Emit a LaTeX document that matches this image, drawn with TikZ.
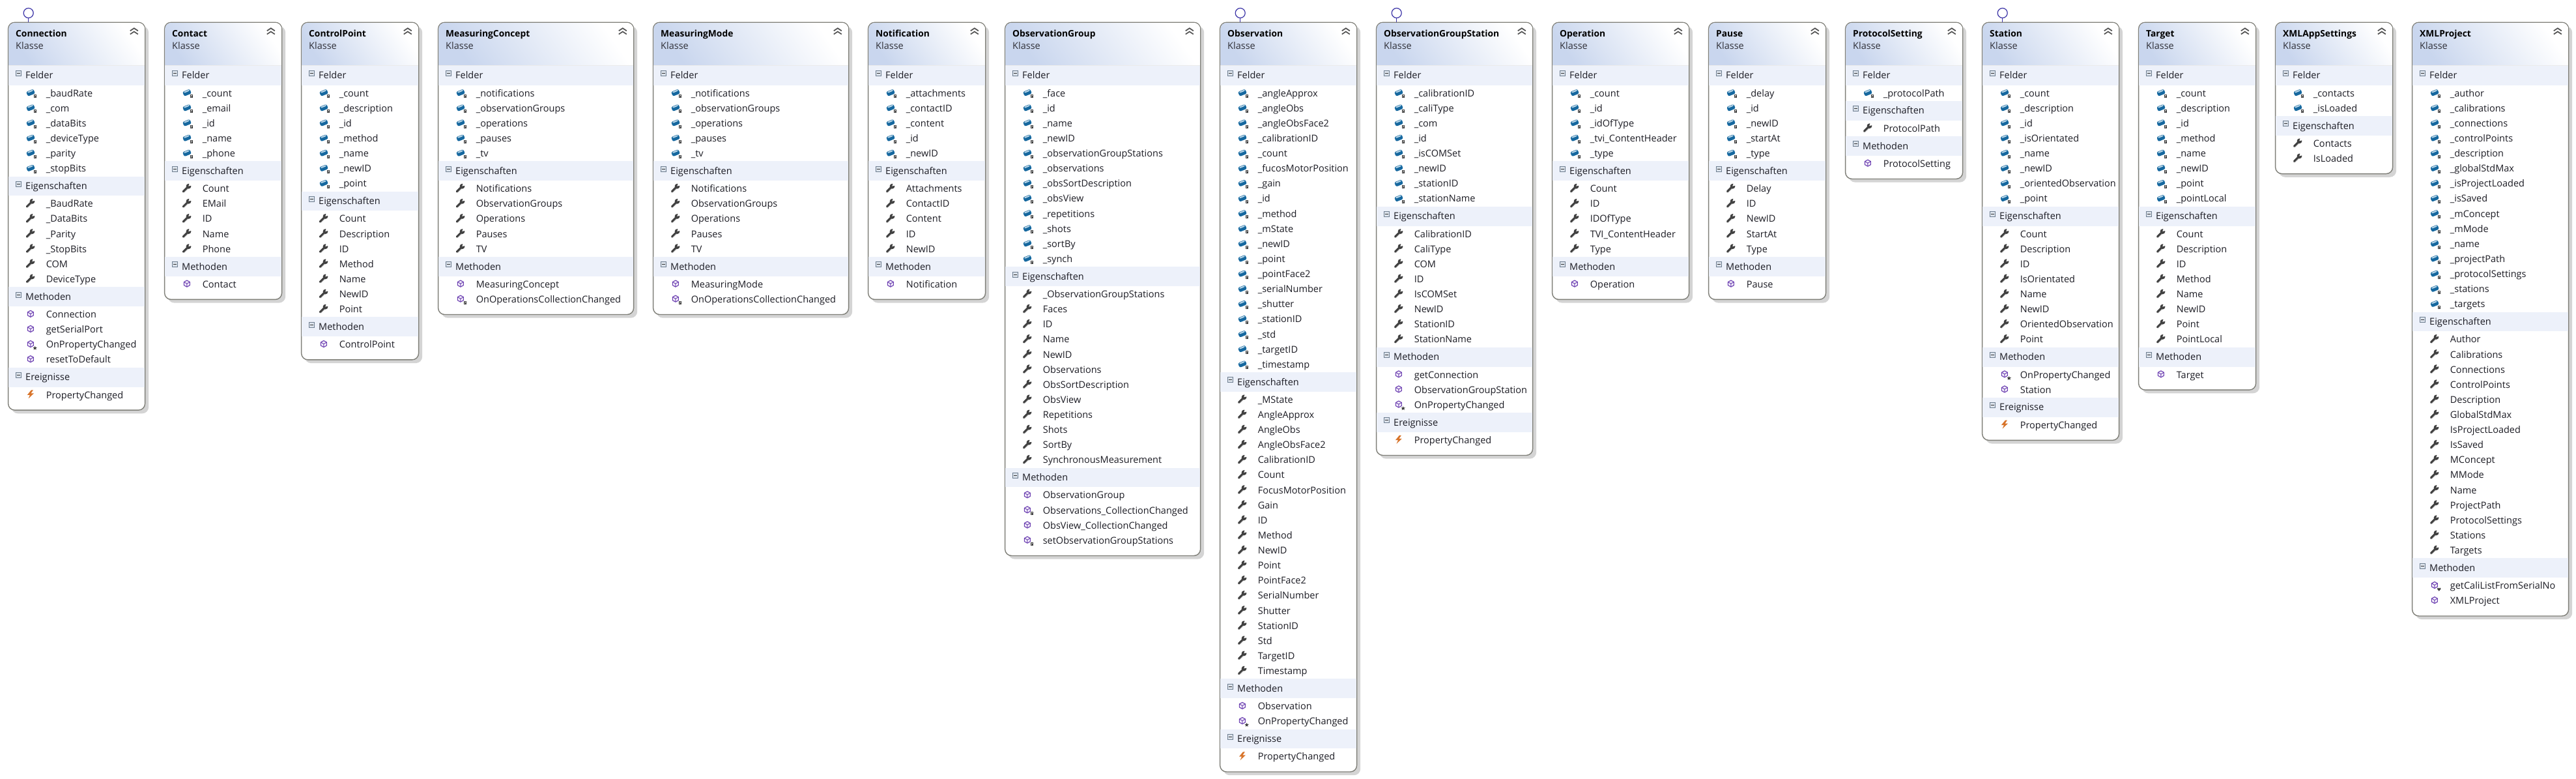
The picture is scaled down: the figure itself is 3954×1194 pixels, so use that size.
\documentclass[tikz,border=0pt]{standalone}
\usepackage{fontspec}
\setmainfont{Open Sans}
\AtBeginDocument{\catcode`\_=12 }
\definecolor{framegray}{HTML}{7F7F78}
\definecolor{shadowgray}{HTML}{D4D4D4}
\definecolor{hdrblue}{HTML}{C9D6EE}
\definecolor{bandblue}{HTML}{EDF1FA}
\definecolor{inktext}{HTML}{1C1C24}
\definecolor{subtext}{HTML}{303038}
\definecolor{fieldblue}{HTML}{16689F}
\definecolor{fieldlight}{HTML}{B9D6E8}
\definecolor{lockgray}{HTML}{3C3C3C}
\definecolor{wrenchgray}{HTML}{414141}
\definecolor{methpurple}{HTML}{6A3DB0}
\definecolor{methsoft}{HTML}{F4EFFA}
\definecolor{eventorange}{HTML}{D8742A}
\definecolor{lolliblue}{HTML}{3B33A6}
\definecolor{togglefill}{HTML}{DCE3EC}
\definecolor{toggleedge}{HTML}{6E7E90}
\newcount\rowcnt
\newcommand{\rowfontsel}{\fontsize{14.5}{18}\selectfont}
\newcommand{\titlefontsel}{\fontsize{13.8}{18}\selectfont\bfseries}
\tikzset{
  classframe/.style={draw=framegray,fill=white,line width=1.4pt,rounded corners=10pt,inner sep=0pt,outer sep=0pt,anchor=north west},
  classshadow/.style={fill=shadowgray,rounded corners=10pt},
  rowtext/.style={anchor=base west,inner sep=0pt,outer sep=0pt,font=\rowfontsel,text=inktext},
  titletext/.style={anchor=base west,inner sep=0pt,outer sep=0pt,font=\titlefontsel,text=black},
  kindtext/.style={anchor=base west,inner sep=0pt,outer sep=0pt,font=\rowfontsel,text=subtext},
  lollicircle/.style={circle,draw=lolliblue,line width=1.2pt,minimum size=15pt,inner sep=0pt,outer sep=0pt},
  lolliline/.style={draw=lolliblue,line width=1.2pt},
  chevron/.style={draw=black!68,line width=1.7pt},
}
% icons, drawn around the origin; y runs downwards
\newcommand{\iconlock}{%
  \fill[lockgray] (4.6,5.4) rectangle (9,8.4);
  \draw[lockgray,line width=.8pt] (5.6,5.4) -- (5.6,3.8) -- (8,3.8) -- (8,5.4);
  \fill[white] (6.3,6.4) rectangle (7.3,7.3);
}
\newcommand{\iconstar}{%
  \fill[lockgray] (6.8,3.2) -- (7.7,5.3) -- (10,5.4) -- (8.2,6.8) -- (8.8,9) -- (6.8,7.8) -- (4.8,9) -- (5.4,6.8) -- (3.6,5.4) -- (5.9,5.3) -- cycle;
}
\newcommand{\iconheart}{%
  \fill[lockgray] (6.8,9.2) -- (4,6) .. controls (3.6,3.8) and (6.1,3.4) .. (6.8,5.2) .. controls (7.5,3.4) and (10,3.8) .. (9.6,6) -- cycle;
}
\newcommand{\iconfield}{%
  \begin{scope}[rotate=22]
    \fill[fieldblue,rounded corners=2.4pt] (-6,-3.4) rectangle (6,4);
    \fill[fieldlight,rounded corners=1.5pt] (-4.4,-2.8) rectangle (5,-0.8);
  \end{scope}
}
\newcommand{\iconprop}{%
  \draw[black!22,line width=2.6pt,line cap=round] (-5,6) -- (2,-.5);
  \draw[wrenchgray,line width=3pt,line cap=round] (-5.6,5.2) -- (1,-1.4);
  \fill[wrenchgray] (2.6,-2.8) circle (3.9);
  \fill[white] (2.4,-2.9) -- (8.5,-4.4) -- (4.6,-9) -- cycle;
}
\newcommand{\iconmeth}{%
  \draw[methpurple,fill=methsoft,line width=1.1pt,line join=round] (0,-5) -- (4.5,-2.5) -- (4.5,2.5) -- (0,5) -- (-4.5,2.5) -- (-4.5,-2.5) -- cycle;
  \draw[methpurple,line width=.9pt] (-4.5,-2.5) -- (0,0) -- (4.5,-2.5) (0,0) -- (0,5);
}
\newcommand{\iconevent}{%
  \fill[eventorange] (1,-6.4) -- (-5,1) -- (-1,1) -- (-3.4,6.6) -- (5,-1.4) -- (.6,-1.4) -- (4,-6.4) -- cycle;
}
\newcommand{\iconf}{\iconfield\iconlock}
\newcommand{\iconp}{\iconprop}
\newcommand{\iconm}{\iconmeth}
\newcommand{\iconml}{\iconmeth\iconlock}
\newcommand{\iconms}{\iconmeth\iconstar}
\newcommand{\iconmh}{\iconmeth\iconheart}
\newcommand{\icone}{\iconevent}
% class frame:  id, title, left, width, has lollipop (0/1), number of sections, number of rows
\newcommand{\classbox}[7]{%
  \pgfmathsetmacro\cleft{#3}\xdef\cleft{\cleft}%
  \pgfmathsetmacro\cright{#3+#4}\xdef\cright{\cright}%
  \pgfmathsetmacro\cheight{66.5+31*#6+23.12*#7+11.3}%
  \pgfmathsetmacro\cbottom{34.3+\cheight}%
  \pgfmathsetmacro\sx{#3+5}\pgfmathsetmacro\sxx{#3+#4+5.6}\pgfmathsetmacro\sy{\cbottom+5.2}%
  \fill[classshadow] (\sx,40) rectangle (\sxx,\sy);
  \node[classframe,minimum width=#4 pt,minimum height=\cheight pt] (#1) at (#3,34.3) {};
  \pgfmathsetmacro\hl{#3+.7}\pgfmathsetmacro\hr{#3+#4-.7}%
  \path[bottom color=hdrblue,top color=white,shading angle=-55] (\hl,100.8) [rounded corners=9.4pt] -- (\hl,35) -- (\hr,35) -- (\hr,50) [sharp corners] -- (\hr,100.8) -- cycle;
  \draw[black!8,line width=.8pt] (\hl,100.8) -- (\hr,100.8);
  \pgfmathsetmacro\tx{#3+11.6}%
  \global\advance\rowcnt by 1
  \node[titletext] (t\number\rowcnt) at (\tx,56) {#2};
  \node[kindtext] (k\number\rowcnt) at (\tx,75.8) {Klasse};
  \pgfmathsetmacro\chx{#3+#4-16.8}%
  \begin{scope}[shift={(\chx,48.3)}]
    \draw[chevron] (-6,-1) -- (0,-5) -- (6,-1);
    \draw[chevron] (-6,4.2) -- (0,.2) -- (6,4.2);
  \end{scope}
  \ifnum#5=1
    \pgfmathsetmacro\lx{#3+31.1}%
    \node[lollicircle] (#1lolli) at (\lx,20) {};
    \draw[lolliline] (#1lolli.south) -- (#1lolli.south |- #1.north);
  \fi
  \xdef\rowtop{100.8}%
}
\newcommand{\sectionband}[1]{%
  \pgfmathsetmacro\bb{\rowtop+29.8}%
  \pgfmathsetmacro\tgx{\cleft+16}\pgfmathsetmacro\tgy{\rowtop+11.8}%
  \pgfmathsetmacro\lbx{\cleft+26.6}\pgfmathsetmacro\lby{\rowtop+20}%
  \pgfmathsetmacro\bl{\cleft+.7}\pgfmathsetmacro\br{\cright-.7}%
  \fill[bandblue] (\bl,\rowtop) rectangle (\br,\bb);
  \begin{scope}[shift={(\tgx,\tgy)}]
    \draw[toggleedge,fill=togglefill,line width=.8pt] (-4,-4) rectangle (4,4);
    \draw[black!80,line width=1pt] (-2.4,0) -- (2.4,0);
  \end{scope}
  \global\advance\rowcnt by 1
  \node[rowtext] (b\number\rowcnt) at (\lbx,\lby) {#1};
  \pgfmathsetmacro\newtop{\rowtop+31}\xdef\rowtop{\newtop}%
}
\newcommand{\itemrows}[2]{%
  \foreach \itm in {#2}{%
    \pgfmathsetmacro\icx{\cleft+34.3}\pgfmathsetmacro\icy{\rowtop+10.1}%
    \pgfmathsetmacro\txx{\cleft+58.2}\pgfmathsetmacro\txy{\rowtop+16.3}%
    \begin{scope}[shift={(\icx,\icy)}]
      \csname icon#1\endcsname
    \end{scope}
    \global\advance\rowcnt by 1
    \node[rowtext] (r\number\rowcnt) at (\txx,\txy) {\itm};
    \pgfmathsetmacro\newtop{\rowtop+23.12}\xdef\rowtop{\newtop}%
  }%
}
\begin{document}
\begin{tikzpicture}[x=1pt,y=-1pt]
\useasboundingbox (0,0) rectangle (3954,1194);

\classbox{connection}{Connection}{12.6}{210}{1}{4}{17}
\sectionband{Felder}\itemrows{f}{_baudRate,_com,_dataBits,_deviceType,_parity,_stopBits}
\sectionband{Eigenschaften}\itemrows{p}{_BaudRate,_DataBits,_Parity,_StopBits,COM,DeviceType}
\sectionband{Methoden}\itemrows{m}{Connection,getSerialPort}\itemrows{ms}{OnPropertyChanged}\itemrows{m}{resetToDefault}
\sectionband{Ereignisse}\itemrows{e}{PropertyChanged}

\classbox{contact}{Contact}{252.6}{180}{0}{3}{11}
\sectionband{Felder}\itemrows{f}{_count,_email,_id,_name,_phone}
\sectionband{Eigenschaften}\itemrows{p}{Count,EMail,ID,Name,Phone}
\sectionband{Methoden}\itemrows{m}{Contact}

\classbox{controlpoint}{ControlPoint}{462.6}{180}{0}{3}{15}
\sectionband{Felder}\itemrows{f}{_count,_description,_id,_method,_name,_newID,_point}
\sectionband{Eigenschaften}\itemrows{p}{Count,Description,ID,Method,Name,NewID,Point}
\sectionband{Methoden}\itemrows{m}{ControlPoint}

\classbox{measuringconcept}{MeasuringConcept}{672.6}{300}{0}{3}{12}
\sectionband{Felder}\itemrows{f}{_notifications,_observationGroups,_operations,_pauses,_tv}
\sectionband{Eigenschaften}\itemrows{p}{Notifications,ObservationGroups,Operations,Pauses,TV}
\sectionband{Methoden}\itemrows{m}{MeasuringConcept}\itemrows{ml}{OnOperationsCollectionChanged}

\classbox{measuringmode}{MeasuringMode}{1002.6}{300}{0}{3}{12}
\sectionband{Felder}\itemrows{f}{_notifications,_observationGroups,_operations,_pauses,_tv}
\sectionband{Eigenschaften}\itemrows{p}{Notifications,ObservationGroups,Operations,Pauses,TV}
\sectionband{Methoden}\itemrows{m}{MeasuringMode}\itemrows{ml}{OnOperationsCollectionChanged}

\classbox{notification}{Notification}{1332.6}{180}{0}{3}{11}
\sectionband{Felder}\itemrows{f}{_attachments,_contactID,_content,_id,_newID}
\sectionband{Eigenschaften}\itemrows{p}{Attachments,ContactID,Content,ID,NewID}
\sectionband{Methoden}\itemrows{m}{Notification}

\classbox{observationgroup}{ObservationGroup}{1542.6}{300}{0}{3}{28}
\sectionband{Felder}\itemrows{f}{_face,_id,_name,_newID,_observationGroupStations,_observations,_obsSortDescription,_obsView,_repetitions,_shots,_sortBy,_synch}
\sectionband{Eigenschaften}\itemrows{p}{_ObservationGroupStations,Faces,ID,Name,NewID,Observations,ObsSortDescription,ObsView,Repetitions,Shots,SortBy,SynchronousMeasurement}
\sectionband{Methoden}\itemrows{m}{ObservationGroup}\itemrows{ml}{Observations_CollectionChanged}\itemrows{m}{ObsView_CollectionChanged}\itemrows{ml}{setObservationGroupStations}

\classbox{observation}{Observation}{1872.6}{210}{1}{4}{41}
\sectionband{Felder}\itemrows{f}{_angleApprox,_angleObs,_angleObsFace2,_calibrationID,_count,_fucosMotorPosition,_gain,_id,_method,_mState,_newID,_point,_pointFace2,_serialNumber,_shutter,_stationID,_std,_targetID,_timestamp}
\sectionband{Eigenschaften}\itemrows{p}{_MState,AngleApprox,AngleObs,AngleObsFace2,CalibrationID,Count,FocusMotorPosition,Gain,ID,Method,NewID,Point,PointFace2,SerialNumber,Shutter,StationID,Std,TargetID,Timestamp}
\sectionband{Methoden}\itemrows{m}{Observation}\itemrows{ms}{OnPropertyChanged}
\sectionband{Ereignisse}\itemrows{e}{PropertyChanged}

\classbox{observationgroupstation}{ObservationGroupStation}{2112.6}{240}{1}{4}{20}
\sectionband{Felder}\itemrows{f}{_calibrationID,_caliType,_com,_id,_isCOMSet,_newID,_stationID,_stationName}
\sectionband{Eigenschaften}\itemrows{p}{CalibrationID,CaliType,COM,ID,IsCOMSet,NewID,StationID,StationName}
\sectionband{Methoden}\itemrows{m}{getConnection,ObservationGroupStation}\itemrows{ms}{OnPropertyChanged}
\sectionband{Ereignisse}\itemrows{e}{PropertyChanged}

\classbox{operation}{Operation}{2382.6}{210}{0}{3}{11}
\sectionband{Felder}\itemrows{f}{_count,_id,_idOfType,_tvi_ContentHeader,_type}
\sectionband{Eigenschaften}\itemrows{p}{Count,ID,IDOfType,TVI_ContentHeader,Type}
\sectionband{Methoden}\itemrows{m}{Operation}

\classbox{pause}{Pause}{2622.6}{180}{0}{3}{11}
\sectionband{Felder}\itemrows{f}{_delay,_id,_newID,_startAt,_type}
\sectionband{Eigenschaften}\itemrows{p}{Delay,ID,NewID,StartAt,Type}
\sectionband{Methoden}\itemrows{m}{Pause}

\classbox{protocolsetting}{ProtocolSetting}{2832.6}{180}{0}{3}{3}
\sectionband{Felder}\itemrows{f}{_protocolPath}
\sectionband{Eigenschaften}\itemrows{p}{ProtocolPath}
\sectionband{Methoden}\itemrows{m}{ProtocolSetting}

\classbox{station}{Station}{3042.6}{210}{1}{4}{19}
\sectionband{Felder}\itemrows{f}{_count,_description,_id,_isOrientated,_name,_newID,_orientedObservation,_point}
\sectionband{Eigenschaften}\itemrows{p}{Count,Description,ID,IsOrientated,Name,NewID,OrientedObservation,Point}
\sectionband{Methoden}\itemrows{ms}{OnPropertyChanged}\itemrows{m}{Station}
\sectionband{Ereignisse}\itemrows{e}{PropertyChanged}

\classbox{target}{Target}{3282.6}{180}{0}{3}{17}
\sectionband{Felder}\itemrows{f}{_count,_description,_id,_method,_name,_newID,_point,_pointLocal}
\sectionband{Eigenschaften}\itemrows{p}{Count,Description,ID,Method,Name,NewID,Point,PointLocal}
\sectionband{Methoden}\itemrows{m}{Target}

\classbox{xmlappsettings}{XMLAppSettings}{3492.6}{180}{0}{2}{4}
\sectionband{Felder}\itemrows{f}{_contacts,_isLoaded}
\sectionband{Eigenschaften}\itemrows{p}{Contacts,IsLoaded}

\classbox{xmlproject}{XMLProject}{3702.6}{240}{0}{3}{32}
\sectionband{Felder}\itemrows{f}{_author,_calibrations,_connections,_controlPoints,_description,_globalStdMax,_isProjectLoaded,_isSaved,_mConcept,_mMode,_name,_projectPath,_protocolSettings,_stations,_targets}
\sectionband{Eigenschaften}\itemrows{p}{Author,Calibrations,Connections,ControlPoints,Description,GlobalStdMax,IsProjectLoaded,IsSaved,MConcept,MMode,Name,ProjectPath,ProtocolSettings,Stations,Targets}
\sectionband{Methoden}\itemrows{mh}{getCaliListFromSerialNo}\itemrows{m}{XMLProject}
\end{tikzpicture}
\end{document}
